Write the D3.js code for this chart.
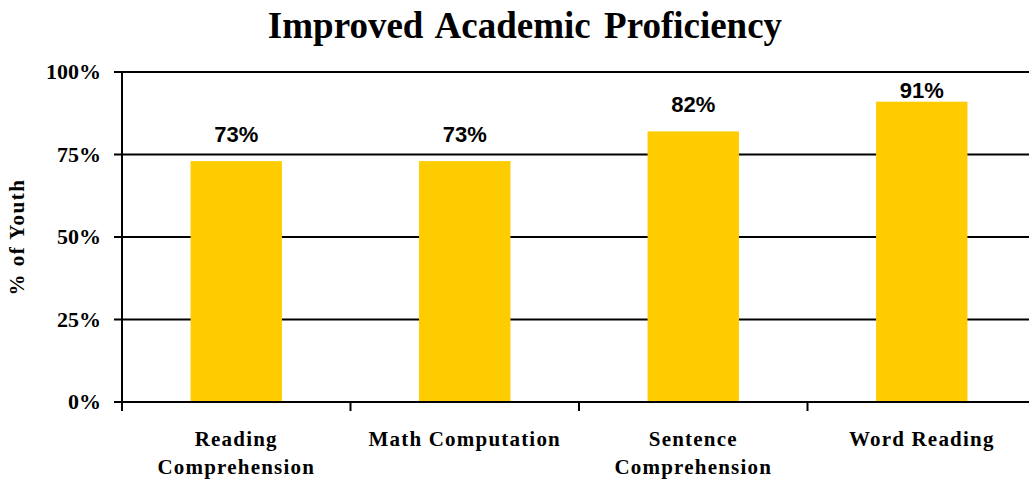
<!DOCTYPE html>
<html>
<head>
<meta charset="utf-8">
<script src="https://cdn.jsdelivr.net/npm/d3@7"></script>
<style>
  html, body { margin: 0; padding: 0; background: #fff; }
  svg { display: block; }
</style>
</head>
<body>
<svg id="chart" width="1029" height="483"></svg>
<script>
// Chart data
const categories = ["Reading Comprehension", "Math Computation", "Sentence Comprehension", "Word Reading"];
const categoryLines = [["Reading", "Comprehension"], ["Math Computation"], ["Sentence", "Comprehension"], ["Word Reading"]];
const values = [73, 73, 82, 91];
const valueLabels = ["73%", "73%", "82%", "91%"];
const yTicks = [0, 25, 50, 75, 100];
const yTickLabels = ["0%", "25%", "50%", "75%", "100%"];
const titleText = "Improved Academic Proficiency";
const yTitle = "% of Youth";

const svg = d3.select("#chart");
const margin = { left: 122, top: 72, bottom: 402, right: 1036 };

const x = d3.scaleBand().domain(categories).range([margin.left, margin.right]).padding(0);
const y = d3.scaleLinear().domain([0, 100]).range([margin.bottom, margin.top]);
const barFrac = 0.4;
const serif = "'Liberation Serif', 'Times New Roman', serif";
const sans = "'Liberation Sans', Arial, sans-serif";

// Title
svg.append("text")
  .attr("x", 525).attr("y", 38)
  .attr("text-anchor", "middle")
  .style("font-family", serif).style("font-weight", "bold").style("font-size", "37px")
  .style("word-spacing", "4px")
  .text(titleText);

// Horizontal gridlines (with tick stubs to the left of the axis)
svg.append("g").selectAll("line")
  .data(yTicks.filter(t => t > 0))
  .join("line")
  .attr("x1", margin.left - 8).attr("x2", margin.right)
  .attr("y1", d => y(d)).attr("y2", d => y(d))
  .attr("stroke", "#000").attr("stroke-width", 2);

// Bars
svg.append("g").selectAll("rect")
  .data(categories)
  .join("rect")
  .attr("x", d => x(d) + x.bandwidth() * (1 - barFrac) / 2)
  .attr("width", x.bandwidth() * barFrac)
  .attr("y", (d, i) => y(values[i]))
  .attr("height", (d, i) => y(0) - y(values[i]))
  .attr("fill", "#FFCC00");

// Value labels
svg.append("g").selectAll("text")
  .data(categories)
  .join("text")
  .attr("x", d => x(d) + x.bandwidth() / 2)
  .attr("y", (d, i) => Math.max(y(values[i]) - 19, y(100) + 26))
  .attr("text-anchor", "middle")
  .style("font-family", sans).style("font-weight", "bold").style("font-size", "22px")
  .text((d, i) => valueLabels[i]);

// X axis baseline and category boundary ticks
svg.append("line")
  .attr("x1", margin.left - 8).attr("x2", margin.right)
  .attr("y1", y(0)).attr("y2", y(0))
  .attr("stroke", "#000").attr("stroke-width", 2);
const boundaries = categories.map(c => x(c)).concat([margin.right]);
svg.append("g").selectAll("line")
  .data(boundaries)
  .join("line")
  .attr("x1", d => d).attr("x2", d => d)
  .attr("y1", y(0)).attr("y2", y(0) + 9)
  .attr("stroke", "#000").attr("stroke-width", 2);

// Y axis line
svg.append("line")
  .attr("x1", margin.left).attr("x2", margin.left)
  .attr("y1", y(100)).attr("y2", y(0) + 9)
  .attr("stroke", "#000").attr("stroke-width", 2);

// Y tick labels
svg.append("g").selectAll("text")
  .data(yTicks)
  .join("text")
  .attr("x", 101)
  .attr("y", d => y(d) + 7)
  .attr("text-anchor", "end")
  .style("font-family", serif).style("font-weight", "bold").style("font-size", "22px")
  .text((d, i) => yTickLabels[i]);

// Y axis title
svg.append("text")
  .attr("transform", `translate(24, ${(y(0) + y(100)) / 2}) rotate(-90)`)
  .attr("text-anchor", "middle")
  .style("font-family", serif).style("font-weight", "bold").style("font-size", "21px")
  .style("letter-spacing", "1.5px")
  .text(yTitle);

// X category labels
const xl = svg.append("g").selectAll("text")
  .data(categories)
  .join("text")
  .attr("x", d => x(d) + x.bandwidth() / 2)
  .attr("y", 446)
  .attr("text-anchor", "middle")
  .style("font-family", serif).style("font-weight", "bold").style("font-size", "21px")
  .style("letter-spacing", "1.2px");
xl.each(function(d, i) {
  const t = d3.select(this);
  categoryLines[i].forEach((line, j) => {
    t.append("tspan")
      .attr("x", x(d) + x.bandwidth() / 2)
      .attr("dy", j === 0 ? 0 : 28)
      .text(line);
  });
});
</script>
</body>
</html>
